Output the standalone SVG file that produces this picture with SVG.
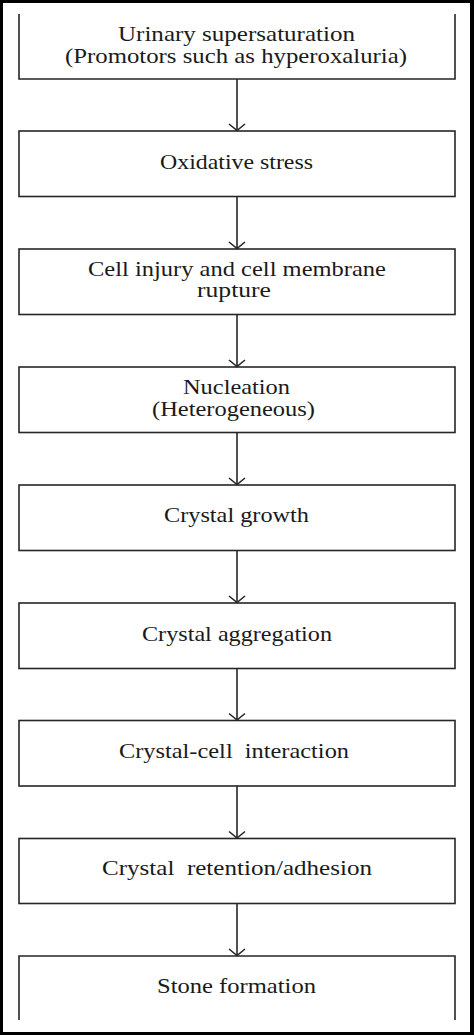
<svg xmlns="http://www.w3.org/2000/svg" width="474" height="1035" viewBox="0 0 474 1035">
<style>
.box{fill:none;stroke:#262626;stroke-width:1.6}
.lbl{font-family:"Liberation Serif","Times New Roman",serif;font-size:21px;fill:#1a1a1a;text-anchor:middle}
.con line{stroke:#262626;stroke-width:1.6}
.con path{fill:none;stroke:#262626;stroke-width:1.6}
</style>
<rect x="0" y="0" width="474" height="1035" fill="#000"/>
<rect x="3" y="3" width="467" height="1029" fill="#fff"/>
<g id="n1">
<path class="box" d="M19,14 V79 H455 V14"/>
<text class="lbl" x="236.5" y="40.5" textLength="237" lengthAdjust="spacingAndGlyphs">Urinary supersaturation</text>
<text class="lbl" x="236" y="63" textLength="342" lengthAdjust="spacingAndGlyphs">(Promotors such as hyperoxaluria)</text>
</g>
<g id="n2">
<rect class="box" x="19" y="131" width="436" height="65.5"/>
<text class="lbl" x="236.5" y="169.3" textLength="153" lengthAdjust="spacingAndGlyphs">Oxidative stress</text>
</g>
<g id="n3">
<rect class="box" x="19" y="249" width="436" height="65.5"/>
<text class="lbl" x="237" y="275.5" textLength="298" lengthAdjust="spacingAndGlyphs">Cell injury and cell membrane</text>
<text class="lbl" x="234" y="297.3" textLength="74" lengthAdjust="spacingAndGlyphs">rupture</text>
</g>
<g id="n4">
<rect class="box" x="19" y="367" width="436" height="65.5"/>
<text class="lbl" x="236.5" y="394" textLength="107" lengthAdjust="spacingAndGlyphs">Nucleation</text>
<text class="lbl" x="233.5" y="416" textLength="163" lengthAdjust="spacingAndGlyphs">(Heterogeneous)</text>
</g>
<g id="n5">
<rect class="box" x="19" y="485" width="436" height="65.5"/>
<text class="lbl" x="236.5" y="522.3" textLength="145" lengthAdjust="spacingAndGlyphs">Crystal growth</text>
</g>
<g id="n6">
<rect class="box" x="19" y="603" width="436" height="65.5"/>
<text class="lbl" x="237" y="640.7" textLength="190" lengthAdjust="spacingAndGlyphs">Crystal aggregation</text>
</g>
<g id="n7">
<rect class="box" x="19" y="720.5" width="436" height="65.5"/>
<text class="lbl" x="234" y="757.7" textLength="230" lengthAdjust="spacingAndGlyphs" xml:space="preserve">Crystal-cell  interaction</text>
</g>
<g id="n8">
<rect class="box" x="19" y="838.5" width="436" height="65"/>
<text class="lbl" x="237" y="875" textLength="270" lengthAdjust="spacingAndGlyphs" xml:space="preserve">Crystal  retention/adhesion</text>
</g>
<g id="n9">
<path class="box" d="M19,1020 V956 H455 V1020"/>
<text class="lbl" x="236.5" y="992.7" textLength="159" lengthAdjust="spacingAndGlyphs">Stone formation</text>
</g>
<g id="connectors" class="con">
<line x1="237" y1="79" x2="237" y2="130.5"/><path d="M229,124 L237,130.5 L245,124"/>
<line x1="237" y1="196.5" x2="237" y2="248.5"/><path d="M229,242 L237,248.5 L245,242"/>
<line x1="237" y1="314.5" x2="237" y2="366.5"/><path d="M229,360 L237,366.5 L245,360"/>
<line x1="237" y1="432.5" x2="237" y2="484.5"/><path d="M229,478 L237,484.5 L245,478"/>
<line x1="237" y1="550.5" x2="237" y2="602.5"/><path d="M229,596 L237,602.5 L245,596"/>
<line x1="237" y1="668.5" x2="237" y2="720"/><path d="M229,713.5 L237,720 L245,713.5"/>
<line x1="237" y1="786" x2="237" y2="838"/><path d="M229,831.5 L237,838 L245,831.5"/>
<line x1="237" y1="903.5" x2="237" y2="955.5"/><path d="M229,949 L237,955.5 L245,949"/>
</g>
</svg>
